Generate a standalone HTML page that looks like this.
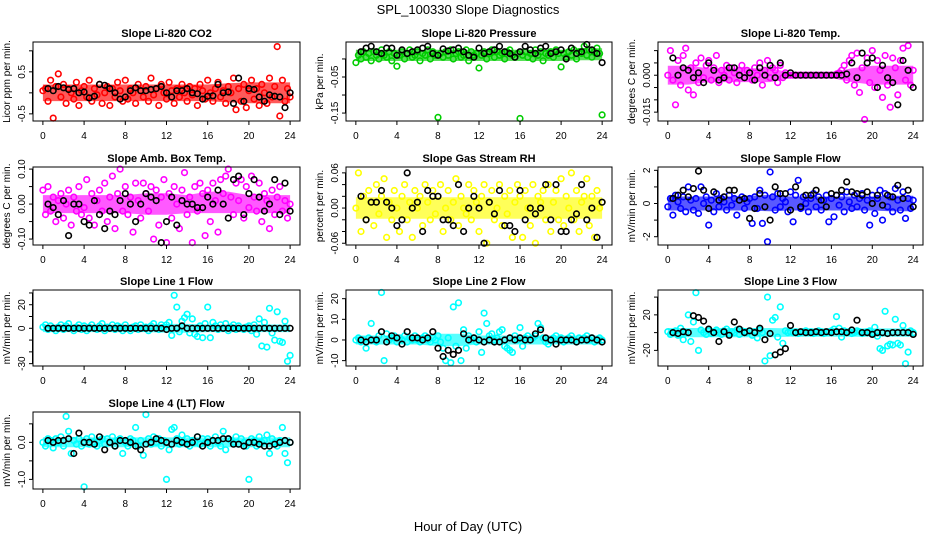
<!DOCTYPE html>
<html><head><meta charset="utf-8"><style>
html,body{margin:0;padding:0;background:#fff;}
svg{display:block;font-family:"Liberation Sans",sans-serif;}
</style></head><body>
<svg id="chart" width="936" height="540" viewBox="0 0 936 540">
<text x="468" y="14" text-anchor="middle" font-size="13">SPL_100330  Slope Diagnostics</text>
<text x="468" y="531" text-anchor="middle" font-size="13">Hour of Day (UTC)</text>
</svg>
<script>
const xTicks = [0,4,8,12,16,20,24];
const titles = ["Slope Li-820 CO2","Slope Li-820 Pressure","Slope Li-820 Temp.","Slope Amb. Box Temp.","Slope Gas Stream RH","Slope Sample Flow","Slope Line 1 Flow","Slope Line 2 Flow","Slope Line 3 Flow","Slope Line 4 (LT) Flow"];
const yTitles = ["Licor ppm per min.","kPa per min.","degrees C per min.","degrees C per min.","percent per min.","mV/min per min.","mV/min per min.","mV/min per min.","mV/min per min.","mV/min per min."];
const yTickVals = [[-0.5,0,0.5,1.0],[-0.15,-0.10,-0.05,0],[-0.015,-0.010,-0.005,0,0.005,0.010],[-0.10,-0.05,0,0.05,0.10],[-0.06,-0.04,-0.02,0,0.02,0.04,0.06],[-2,-1,0,1,2],[-30,-20,-10,0,10,20,30],[-10,0,10,20],[-20,0,20,40],[-1.0,-0.5,0,0.5]];
const yTickLabels = [["-0.5","","0.5",""],["-0.15","","-0.05",""],["-0.015","","","0.000","",""],["-0.10","","0.00","","0.10"],["-0.06","","","0.00","","","0.06"],["-2","","0","","2"],["-30","","","0","","20",""],["-10","0","10","20"],["-20","","20",""],["-1.0","","0.0",""]];
const yDomains = [[-0.67,1.21],[-0.172,0.047],[-0.0186,0.0135],[-0.117,0.106],[-0.063,0.070],[-2.5,2.2],[-32,32.5],[-12.6,24.2],[-37.6,48],[-1.26,0.82]];
const colors = ["#ff0000","#00cd00","#ff00ff","#ff00ff","#ffff00","#0000ff","#00ffff","#00ffff","#00ffff","#00ffff"];

// dense-cloud envelopes, sampled every 2 hours (0..24)
const bandLo = [
 [-0.15,-0.15,-0.15,-0.15,-0.15,-0.15,-0.15,-0.15,-0.15,-0.18,-0.2,-0.2,-0.2],
 [0.0,0.0,0.0,0.0,0.0,0.0,0.0,0.0,0.0,0.0,0.0,0.002,0.002],
 [-0.003,-0.003,-0.002,-0.002,-0.002,-0.002,-0.0003,-0.0003,-0.0003,-0.002,-0.003,-0.003,-0.003],
 [-0.02,-0.02,-0.02,-0.02,-0.02,-0.025,-0.025,-0.02,-0.02,-0.02,-0.02,-0.02,-0.02],
 [-0.015,-0.015,-0.015,-0.015,-0.015,-0.015,-0.015,-0.015,-0.015,-0.015,-0.015,-0.015,-0.015],
 [-0.3,-0.3,-0.3,-0.3,-0.3,-0.35,-0.3,-0.3,-0.3,-0.3,-0.3,-0.35,-0.35],
 [-1.5,-1.5,-1.5,-1.5,-1.5,-1.5,-2,-2,-1.5,-1.5,-1.5,-1.5,-1.5],
 [-1.2,-1.2,-1.2,-1.2,-2,-2,-1.2,-1.2,-1.2,-1.2,-1.2,-1.2,-1.2],
 [-3,-3,-3,-3,-3,-3,-2.5,-2.5,-2.5,-2.5,-2.5,-2.5,-2.5],
 [-0.08,-0.08,-0.08,-0.08,-0.08,-0.08,-0.08,-0.08,-0.08,-0.08,-0.08,-0.08,-0.08]];
const bandHi = [
 [0.15,0.15,0.15,0.15,0.15,0.15,0.15,0.15,0.15,0.18,0.2,0.2,0.2],
 [0.02,0.02,0.02,0.02,0.02,0.02,0.02,0.02,0.02,0.02,0.02,0.024,0.024],
 [0.003,0.003,0.002,0.002,0.002,0.002,0.0003,0.0003,0.0003,0.002,0.003,0.003,0.003],
 [0.02,0.02,0.02,0.02,0.02,0.025,0.025,0.02,0.03,0.03,0.02,0.02,0.02],
 [0.015,0.015,0.015,0.015,0.015,0.015,0.015,0.015,0.015,0.015,0.015,0.015,0.015],
 [0.3,0.3,0.3,0.3,0.35,0.4,0.3,0.3,0.3,0.3,0.3,0.35,0.35],
 [1.5,1.5,1.5,1.5,1.5,1.5,2,2,1.5,1.5,1.5,1.5,1.5],
 [1.2,1.2,1.2,1.2,2,2,1.2,1.2,1.2,1.2,1.2,1.2,1.2],
 [3,3,3,3,3,3,2.5,2.5,2.5,2.5,2.5,2.5,2.5],
 [0.08,0.08,0.08,0.08,0.08,0.08,0.08,0.08,0.08,0.08,0.08,0.08,0.08]];

const c1 = [0.05,0.1,-0.2,0.3,-0.6,0.15,0.45,-0.1,0.2,-0.25,0.1,0.0,-0.15,0.25,-0.3,0.05,0.15,-0.1,0.3,-0.2,0.1,-0.05,0.2,-0.25,0.0,0.15,-0.3,0.1,-0.1,0.25,0.05,-0.2,0.3,-0.15,0.1,0.0,-0.25,0.2,0.05,-0.1,0.15,-0.2,0.35,-0.05,0.1,-0.3,0.2,0.0,-0.15,0.25,0.05,-0.25,0.1,-0.1,0.2,0.0,-0.2,0.15,-0.05,0.1,-0.3,0.2,0.05,-0.15,0.3,0.0,-0.2,0.1,0.25,-0.1,0.05,-0.25,0.15,0.0,0.35,-0.4,0.1,-0.2,0.2,-0.35,0.05,0.3,-0.15,0.1,-0.3,0.2,0.0,-0.25,0.35,-0.1,0.15,1.1,-0.55,0.3,-0.2,0.1,-0.1];
const k1 = [0.1,0.05,0.15,0.12,0.08,0.1,0.0,0.02,-0.12,-0.08,0.2,0.18,0.1,0.0,-0.15,-0.1,0.05,0.12,0.05,0.05,0.08,0.1,0.15,0.0,-0.1,0.05,0.05,0.1,0.0,-0.02,-0.15,-0.08,-0.07,0.2,0.0,0.02,-0.25,0.35,-0.2,0.1,0.08,-0.1,-0.2,-0.05,-0.08,-0.1,-0.35,0.0];
const c2 = [-0.01,0.01,0.0,0.02,0.005,0.015,-0.005,0.02,0.01,0.0,0.025,0.01,0.005,0.02,-0.005,0.015,-0.02,0.01,0.02,0.0,0.015,0.025,0.005,0.01,0.02,-0.005,0.015,0.01,0.025,0.0,0.02,0.01,-0.162,0.015,0.005,0.02,0.01,0.025,0.0,0.015,0.02,0.005,0.01,0.025,-0.005,0.02,0.01,0.015,-0.025,0.01,0.02,0.0,0.015,0.025,0.005,0.02,0.01,0.015,0.0,0.02,0.025,0.01,0.005,0.015,-0.165,0.01,0.02,0.005,0.015,0.0,0.025,0.01,0.02,-0.005,0.015,0.01,0.02,0.005,0.025,0.015,-0.022,0.015,0.005,0.02,0.01,0.025,0.0,0.02,0.015,0.035,0.01,0.025,0.005,0.02,0.03,0.015,-0.155];
const k2 = [0.02,0.03,0.035,0.02,0.015,0.03,0.03,0.01,0.025,0.015,0.02,0.025,0.03,0.035,0.015,0.01,0.028,0.022,0.025,0.03,0.02,0.01,0.005,0.03,0.015,0.02,0.025,0.035,0.02,0.015,0.005,0.02,0.035,0.025,0.015,0.03,0.035,0.015,0.02,0.025,0.0,0.03,0.015,0.02,0.04,0.025,0.015,-0.01];
const c3 = [0.0,0.01,-0.002,-0.012,0.006,-0.004,0.008,0.011,-0.006,0.003,-0.008,0.005,-0.003,0.007,-0.001,0.004,0.006,-0.002,0.003,0.008,-0.003,0.002,0.0,0.004,-0.002,0.003,0.001,-0.003,0.002,0.004,-0.001,0.002,0.001,-0.002,0.003,0.0,0.005,-0.004,0.002,0.006,-0.001,0.003,0.002,-0.003,0.004,-0.001,0.001,0.0,0,0,0,0,0,0,0,0,0,0,0,0,0,0,0,0,0,0,0.0005,0.001,0.002,0.004,-0.002,0.006,0.008,-0.004,0.009,-0.007,0.003,-0.018,0.007,-0.003,0.01,-0.005,0.006,0.002,-0.009,0.008,-0.004,-0.013,0.007,0.003,-0.008,0.006,0.011,-0.002,0.012,-0.004,0.002];
const k3 = [0.007,0.0,0.003,0.002,-0.001,0.001,-0.003,0.005,0.002,-0.002,-0.001,0.003,0.003,0.0,-0.001,0.001,-0.002,0.003,0.0,0.004,-0.001,0.005,0.0,0.001,0,0,0,0,0,0,0,0,0,0,0.0005,0.005,-0.001,0.009,0.005,0.007,-0.005,0.004,-0.001,-0.003,-0.012,0.006,0.002,-0.005];
const c4 = [0.04,-0.03,0.05,-0.02,0.02,-0.05,0.01,0.03,-0.04,0.0,0.04,-0.06,0.02,-0.02,0.05,-0.03,-0.01,0.07,-0.04,0.03,-0.06,0.01,0.04,-0.02,0.06,-0.05,0.02,0.08,-0.07,0.03,0.1,-0.02,0.05,-0.03,0.02,-0.08,0.06,0.01,-0.04,0.06,0.03,-0.02,0.05,-0.1,0.04,-0.06,0.02,0.07,-0.11,0.03,-0.04,0.05,0.0,-0.07,0.04,0.09,-0.03,0.02,-0.11,0.05,-0.02,0.06,0.03,-0.09,0.04,-0.05,0.06,0.01,-0.08,0.07,0.03,0.08,0.1,0.02,-0.03,0.06,0.01,0.07,-0.04,0.05,-0.01,0.08,0.02,-0.02,0.06,-0.05,0.03,0.01,-0.07,0.04,-0.03,0.02,0.05,-0.02,0.01,-0.04,0.0];
const k4 = [0.0,-0.01,-0.03,0.01,-0.09,0.0,0.0,-0.05,-0.06,0.01,-0.03,-0.07,-0.02,-0.03,0.01,0.03,0.0,-0.05,0.0,0.03,0.02,0.01,-0.11,-0.05,0.02,-0.06,0.01,0.0,0.0,-0.01,-0.01,0.02,0.0,0.04,0.0,-0.04,0.07,0.08,-0.03,0.03,0.07,0.02,-0.02,0.0,0.07,-0.03,0.06,-0.02];
const c5 = [0.0,0.06,-0.04,0.02,-0.02,0.03,0.01,-0.03,0.04,-0.01,0.02,0.05,-0.05,0.01,-0.02,0.03,0.0,-0.04,0.02,0.04,-0.02,0.01,-0.05,0.03,0.0,0.02,-0.03,0.04,0.01,-0.02,0.03,-0.01,0.02,0.04,-0.04,0.0,0.03,-0.02,0.01,0.05,-0.03,0.02,0.0,-0.01,0.04,-0.02,0.03,0.01,-0.04,0.02,0.04,-0.06,0.01,0.03,-0.02,0.0,0.04,-0.03,0.02,-0.01,0.03,-0.05,0.01,0.04,0.02,-0.05,0.03,0.0,-0.03,0.04,-0.06,0.02,0.01,0.03,-0.02,0.04,-0.04,0.01,0.03,-0.02,0.05,-0.03,0.02,0.0,0.06,-0.02,0.03,-0.04,0.01,0.02,0.05,-0.03,0.02,-0.05,0.03,0.0,0.01];
const k5 = [0.02,-0.02,0.01,0.01,0.03,0.01,0.0,-0.03,-0.02,0.06,0.0,0.01,-0.04,0.03,0.02,0.02,-0.02,-0.02,-0.03,0.04,-0.04,0.0,0.02,0.0,-0.06,0.01,-0.01,0.03,-0.03,-0.03,-0.04,0.03,-0.02,0.0,-0.01,0.0,0.04,-0.02,0.04,-0.04,-0.04,-0.02,-0.01,0.04,-0.02,0.0,-0.05,0.01];
const c6 = [-0.2,0.3,-0.7,0.5,0.1,-0.3,0.4,-0.5,1.0,0.2,-0.4,0.3,-0.6,1.0,0.0,0.4,-1.3,0.2,-0.5,0.6,-0.2,0.3,0.1,-0.4,0.5,-0.1,0.3,-0.7,0.2,0.4,-0.3,0.1,0.3,-1.2,0.4,-0.3,0.8,-1.2,0.5,-2.3,1.9,0.4,-0.4,0.6,-0.2,0.3,0.1,-0.5,0.7,-1.1,0.5,1.4,-0.3,0.4,0.0,-0.5,0.3,0.6,-0.2,0.4,-0.4,0.2,0.5,-1.1,0.3,-0.8,0.5,-0.1,0.4,-0.5,0.7,0.1,-0.3,0.5,-0.2,0.3,0.6,-0.4,0.2,-1.3,0.5,-0.6,0.3,0.8,-1.0,0.6,-0.2,0.4,-0.5,0.9,0.2,-0.4,0.7,-0.9,0.3,-0.3,0.2];
const k6 = [0.3,0.5,0.8,0.4,0.9,1.95,0.8,-0.3,0.7,0.2,0.4,0.8,0.8,0.2,0.3,-0.9,-0.3,0.6,-0.2,-1.0,1.0,0.6,0.6,-0.4,1.0,-0.2,0.5,0.5,0.8,0.2,-0.2,0.6,0.5,0.8,1.3,0.7,0.6,0.5,0.7,0.0,0.5,-0.1,0.5,0.4,1.1,0.3,0.8,-0.2];
const c7 = [1,3,-1,2,0,-2,1,3,-1,2,4,0,-2,1,3,-1,2,-2,1,3,0,-1,2,4,-2,1,0,3,-1,2,1,-2,3,0,-2,1,2,-1,3,0,1,-2,2,4,0,-1,3,1,3,5,-6,28,18,-3,6,9,12,-4,8,-5,-7,2,-8,4,18,-8,5,2,-1,3,0,4,-2,1,3,-1,2,0,-1,1,2,-2,3,-5,8,-15,5,-16,17,-4,-10,14,-11,-12,6,-28,-23];
const k7 = [0,0,0,0,0,0,0,0,0,0,0,0,0,0,0,0,0,0,0,0,0,0,0,-1,0,0,2,0,0,0,0,0,0,0,0,0,0,0,0,0,0,0,0,0,0,0,0,0];
const c8 = [0,1,-1,0,-4,1,8,0,-1,2,23,-10,3,0,1,2,-1,1,0,2,-1,1,0,2,0,-1,1,2,0,-1,1,0,2,-1,-4,-10,1,-11,16,-3,18,-10,5,-4,2,0,1,-1,4,-6,13,8,2,3,0,1,4,5,-3,-4,-5,-6,2,0,6,-3,1,2,0,1,2,8,6,1,-1,-2,0,1,2,0,1,-1,0,1,2,0,-1,1,0,1,2,0,1,-1,0,1,0];
const k8 = [0,-1,0,0,4,-1,2,1,-2,4,1,1,0,1,4,-4,-8,-5,-7,-5,3,0,1,0,-1,0,-1,-1,0,1,0,1,0,0,3,5,1,0,-2,0,0,0,-1,0,0,1,0,-1];
const c9 = [1,-2,0,2,-3,5,-8,0,20,-10,12,45,-20,3,0,-2,2,-1,1,3,0,-2,2,4,-1,1,0,3,-2,2,1,0,2,-3,1,-6,3,0,-32,40,-26,14,17,-5,29,-12,2,0,1,0,1,-1,0,1,2,0,1,-1,0,2,1,-1,0,1,2,4,18,5,-5,2,0,1,-1,0,2,1,-1,0,1,2,0,6,-4,-18,-20,24,-15,-13,-14,15,-12,-14,8,-35,-22,2,0];
const k9 = [0,-1,1,0,19,17,13,4,0,-10,1,-3,12,4,0,2,0,5,-8,-1,-25,-22,-18,8,0,1,0,0,1,0,1,0,1,1,0,3,14,0,0,-2,0,0,-1,0,0,0,0,-2];
const c10 = [0.0,-0.1,0.1,0.05,-0.15,0.1,0.0,0.15,-0.1,0.7,0.3,-0.3,0.05,-0.05,0.1,-0.1,-1.2,0.1,-0.05,0.15,0.0,-0.1,0.05,0.1,-0.05,0.1,0.0,0.15,-0.1,0.05,0.1,-0.3,0.0,-0.1,0.1,0.05,0.4,-0.1,0.05,-0.35,0.75,0.1,-0.05,0.15,0.0,0.1,-0.1,0.05,-1.0,-0.2,0.35,0.4,0.1,-0.05,0.2,0.0,0.1,-0.1,0.05,0.0,0.15,-0.05,0.1,0.0,0.1,-0.1,0.05,0.15,0.0,-0.1,0.3,-0.2,0.1,0.05,0.0,0.15,-0.05,0.1,0.0,-0.1,-1.0,0.1,0.05,-0.1,0.15,0.0,0.05,0.2,-0.3,0.1,0.0,-0.1,0.05,0.4,-0.3,-0.55,0.0];
const k10 = [0.05,0.0,0.05,0.05,0.1,-0.3,0.25,0.0,0.0,-0.05,0.15,-0.2,0.0,-0.1,0.05,0.05,0.0,-0.1,-0.2,-0.05,0.0,0.1,0.05,0.0,-0.05,0.05,0.0,-0.05,0.0,0.15,-0.1,0.0,0.05,0.05,0.1,0.1,-0.05,-0.05,-0.1,0.0,0.0,-0.05,-0.1,-0.1,-0.05,0.0,0.05,0.0];

const colored = [c1,c2,c3,c4,c5,c6,c7,c8,c9,c10];
const black = [k1,k2,k3,k4,k5,k6,k7,k8,k9,k10];

const NS = "http://www.w3.org/2000/svg";
const svg = document.getElementById("chart");
const colX = [[33,300],[346,612],[658,923]];
const rowY = [[42,121],[167,245],[290,366],[412,489]];
function mk(tag, attrs, parent){
  const e = document.createElementNS(NS, tag);
  for (const k in attrs) e.setAttribute(k, attrs[k]);
  (parent||svg).appendChild(e);
  return e;
}
function slug(s){return s.toLowerCase().replace(/[^a-z0-9]+/g,'-').replace(/^-|-$/g,'');}

titles.forEach((t, p) => {
  const col = p % 3, row = Math.floor(p / 3);
  const [x0,x1] = colX[col], [y0,y1] = rowY[row];
  const pad = (x1-x0)/25.92;
  const xs = h => x0 + pad*0.96 + (h/24)*(x1-x0-2*pad*0.96);
  const [d0,d1] = yDomains[p];
  const ys = v => y1 - (v-d0)/(d1-d0)*(y1-y0);
  const g = mk("g", {});
  
  
  const tt = mk("text", {x:(x0+x1)/2, y:y0-5, "text-anchor":"middle", "font-size":"11", "font-weight":"bold"}, g);
  tt.textContent = t;
  
  
  const yt = mk("text", {x:0,y:0,"text-anchor":"middle","font-size":"10",transform:`translate(${x0-23},${(y0+y1)/2}) rotate(-90)`}, g);
  yt.textContent = yTitles[p];
  
  
  const lo = bandLo[p], hi = bandHi[p];
  const ptsTop = hi.map((v,i) => `${xs(i*24/(hi.length-1)).toFixed(1)},${(ys(v)-2).toFixed(1)}`);
  const ptsBot = lo.map((v,i) => `${xs(i*24/(lo.length-1)).toFixed(1)},${(ys(v)+2).toFixed(1)}`).reverse();
  const band = mk("polygon", {points: ptsTop.concat(ptsBot).join(" "), fill: colors[p], "fill-opacity":"0.65", stroke:"none"}, g);
  
  
  const pts = mk("g", {fill:"none","stroke-width":"1.6"}, g);
  
  
  const cs = colored[p];
  cs.forEach((v,i) => {
    const c = mk("circle", {cx:xs(i*24/(cs.length-1)).toFixed(1), cy:ys(v).toFixed(1), r:"2.8", stroke:colors[p]}, pts);
    
    
  });
  const ks = black[p];
  ks.forEach((v,i) => {
    const c = mk("circle", {cx:xs(0.5 + i*23.5/(ks.length-1)).toFixed(1), cy:ys(v).toFixed(1), r:"2.8", stroke:"#000"}, pts);
    
    
  });
  const bx = mk("rect", {x:x0,y:y0,width:x1-x0,height:y1-y0,fill:"none",stroke:"#000","stroke-width":"1"}, g);
  
  
  const xa = mk("g", {}, g);
  
  
  mk("line", {x1:xs(0),x2:xs(24),y1:y1,y2:y1,stroke:"#000"}, xa);
  xTicks.forEach(h => {
    mk("line", {x1:xs(h),x2:xs(h),y1:y1,y2:y1+4,stroke:"#000"}, xa);
    const l = mk("text", {x:xs(h),y:y1+18,"text-anchor":"middle","font-size":"10"}, xa);
    l.textContent = h;
    
    
  });
  const ya = mk("g", {}, g);
  
  
  const tv = yTickVals[p];
  mk("line", {x1:x0-0.5,x2:x0-0.5,y1:ys(tv[0]),y2:ys(tv[tv.length-1]),stroke:"#000"}, ya);
  tv.forEach((v,i) => {
    mk("line", {x1:x0-4,x2:x0,y1:ys(v),y2:ys(v),stroke:"#000"}, ya);
    const lab = yTickLabels[p][i];
    if (lab) {
      const l = mk("text", {x:0,y:0,"text-anchor":"middle","font-size":"10",transform:`translate(${x0-8},${ys(v)}) rotate(-90)`}, ya);
      l.textContent = lab;
      
      
    }
  });
});
</script>
</body></html>
